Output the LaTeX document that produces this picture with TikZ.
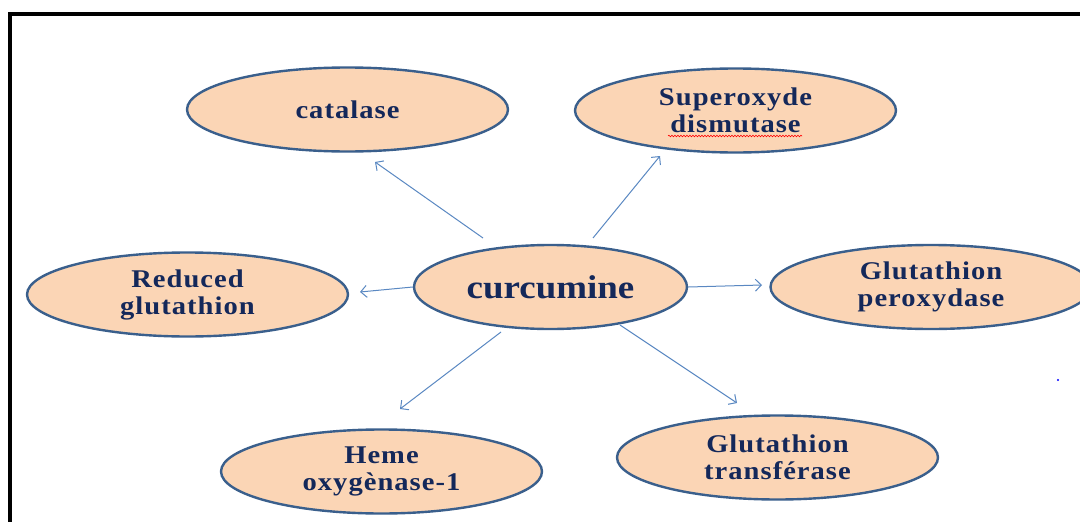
\documentclass[tikz,border=0pt]{standalone}
\usepackage{fontspec}
\setmainfont{Liberation Serif}[FakeStretch=1.12]
\newfontfamily\labelfont{Liberation Serif}[FakeStretch=1.12, LetterSpace=4]
\usetikzlibrary{shapes.geometric,arrows.meta,decorations.pathmorphing}
\definecolor{peach}{HTML}{FBD5B5}
\definecolor{rim}{HTML}{3A5F8C}
\definecolor{navy}{HTML}{14285A}
\definecolor{arrowblue}{HTML}{5A88C2}
\tikzset{
  enzyme/.style={ellipse, draw=rim, line width=2.4pt, fill=peach, inner sep=0pt,
    minimum width=321pt, minimum height=84pt,
    text=navy, font=\labelfont\fontsize{25.5}{27}\selectfont\bfseries, align=center},
  hub/.style={enzyme, minimum width=273pt, minimum height=84pt,
    font=\fontsize{33}{36}\selectfont\bfseries},
  link/.style={draw=arrowblue, line width=1pt,
    -{Straight Barb[length=6pt,width=12pt,line width=1pt]}},
  frameline/.style={line width=4.5pt, black}
}
\begin{document}
\begin{tikzpicture}[x=1pt, y=-1pt]
\useasboundingbox (0,0) rectangle (1080,522);
\fill[white] (0,0) rectangle (1080,522);
% outer frame (left and top edges)
\draw[frameline] (10,524) -- (10,14) -- (1082,14);

% enzymes around curcumine
\node[hub] (cur) at (550.5,287) {curcumine};
\node[enzyme] (cat) at (347.5,109.5) {catalase};
\node[enzyme] (sod) at (735.5,110.5) {Superoxyde\\dismutase};
\node[enzyme] (gsh) at (187.5,294.5) {Reduced\\glutathion};
\node[enzyme] (gpx) at (931,287) {Glutathion\\peroxydase};
\node[enzyme] (ho) at (381.5,471.5) {Heme\\oxygènase-1};
\node[enzyme] (gst) at (777.5,457.5) {Glutathion\\transférase};

% spelling mark under "dismutase"
\draw[red, line width=0.6pt, decorate,
  decoration={snake, amplitude=0.8pt, segment length=3pt}] (668,136) -- (802,136);

% arrow end points
\coordinate (catS) at (483,238);  \coordinate (catE) at (375,162);
\coordinate (sodS) at (593,238);  \coordinate (sodE) at (660,156);
\coordinate (gshE) at (360,292);
\coordinate (gpxE) at (762,285);
\coordinate (hoS)  at (501,332);  \coordinate (hoE)  at (400,409);
\coordinate (gstS) at (620,325);  \coordinate (gstE) at (737,403);

\draw[link] (catS) -- (catE);
\draw[link] (sodS) -- (sodE);
\draw[link] (cur.west) -- (gshE);
\draw[link] (cur.east) -- (gpxE);
\draw[link] (hoS) -- (hoE);
\draw[link] (gstS) -- (gstE);

% stray dot
\fill[blue] (1058,380) circle (1.2pt);
\end{tikzpicture}
\end{document}
